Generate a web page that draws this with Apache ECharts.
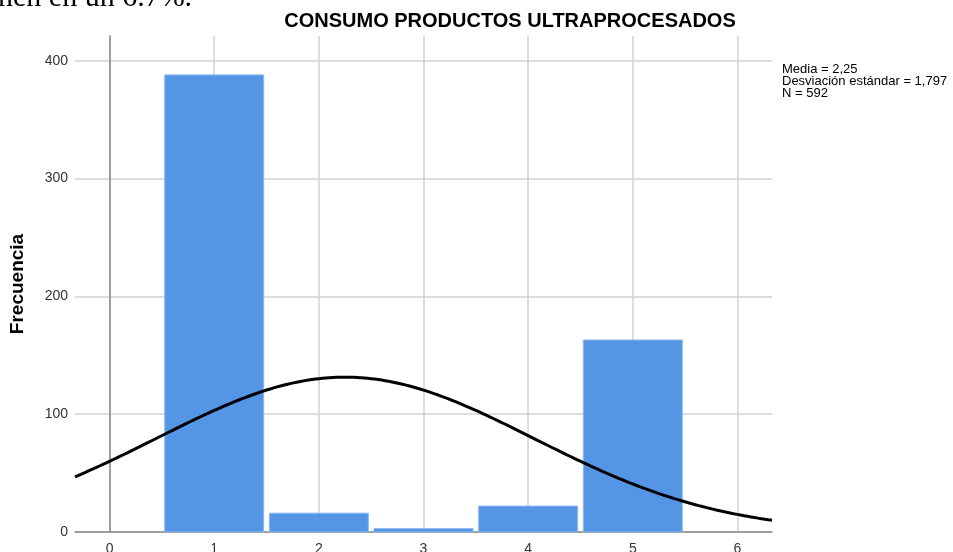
<!DOCTYPE html>
<html>
<head>
<meta charset="utf-8">
<title>Consumo productos ultraprocesados</title>
<script src="https://cdn.jsdelivr.net/npm/echarts@6/dist/echarts.min.js"></script>
<style>
  html, body { margin: 0; padding: 0; background: #ffffff; }
  #chart { width: 953px; height: 552px; }
</style>
</head>
<body>
<div id="chart"></div>
<script>
// Frequency of each consumption score (histogram bins of width 1)
const CATEGORIES = [1, 2, 3, 4, 5];
const FREQUENCIES = [388, 16, 3, 22, 163];

// Axis tick values
const X_TICKS = [0, 1, 2, 3, 4, 5, 6];
const Y_TICKS = [0, 100, 200, 300, 400];

// Summary statistics printed beside the plot
const MEAN = 2.25;
const STD_DEV = 1.797;
const N = 592;

const TITLE = 'CONSUMO PRODUCTOS ULTRAPROCESADOS';
const Y_NAME = 'Frecuencia';
const STATS_LINES = ['Media = 2,25', 'Desviación estándar = 1,797', 'N = 592'];
const HEADER_FRAGMENT = 'nen en un 6.7%.';

// Axis extent and bar half width (data units)
const X_MIN = -0.33, X_MAX = 6.33, Y_MAX = 421;
const BAR_HALF = 0.473;

// Normal curve fitted from the stated mean / standard deviation, scaled to counts
const BIN_WIDTH = 1;
const curve = [];
for (let i = 0; i <= 200; i++) {
  const x = X_MIN + (X_MAX - X_MIN) * i / 200;
  const z = (x - MEAN) / STD_DEV;
  const y = N * BIN_WIDTH * Math.exp(-0.5 * z * z) / (STD_DEV * Math.sqrt(2 * Math.PI));
  curve.push([x, y]);
}

const chart = echarts.init(document.getElementById('chart'), null, { renderer: 'canvas' });

const FONT = '"Liberation Sans", Arial, sans-serif';

chart.setOption({
  animation: false,
  backgroundColor: '#ffffff',
  grid: {
    left: 75, right: 181, top: 36, bottom: 20,
    containLabel: false,
    outerBoundsMode: 'none'
  },
  xAxis: {
    type: 'value',
    min: X_MIN,
    max: X_MAX,
    axisLine: { show: true, onZero: false, lineStyle: { color: '#8a8a8a', width: 1.5 } },
    axisTick: { show: false, customValues: X_TICKS },
    axisLabel: {
      customValues: X_TICKS,
      color: '#333333',
      fontFamily: FONT,
      fontSize: 14,
      margin: 10
    },
    splitLine: { show: true, lineStyle: { color: '#d2d2d2', width: 1.5 } }
  },
  yAxis: {
    type: 'value',
    min: 0,
    max: Y_MAX,
    name: Y_NAME,
    nameLocation: 'middle',
    nameRotate: 90,
    nameGap: 48,
    nameTextStyle: { fontFamily: FONT, fontWeight: 'bold', fontSize: 19, color: '#000000' },
    axisLine: { show: true, lineStyle: { color: '#8a8a8a', width: 1.5 } },
    axisTick: { show: false, customValues: Y_TICKS },
    axisLabel: {
      customValues: Y_TICKS,
      color: '#333333',
      fontFamily: FONT,
      fontSize: 14,
      margin: 7
    },
    splitLine: { show: true, lineStyle: { color: '#d2d2d2', width: 1.5 } }
  },
  graphic: [
    {
      type: 'text',
      x: 510,
      y: 11,
      style: {
        text: TITLE,
        align: 'center',
        verticalAlign: 'top',
        fill: '#000000',
        font: 'bold 20px ' + FONT
      }
    },
    {
      type: 'text',
      x: 782,
      y: 63,
      style: {
        text: STATS_LINES.join('\n'),
        align: 'left',
        verticalAlign: 'top',
        fill: '#000000',
        font: '13px ' + FONT,
        lineHeight: 12
      }
    },
    {
      type: 'text',
      x: -2,
      y: 13,
      style: {
        text: HEADER_FRAGMENT,
        align: 'left',
        verticalAlign: 'bottom',
        lineHeight: 30,
        fill: '#000000',
        font: '30px "Liberation Serif", "Times New Roman", serif'
      }
    }
  ],
  series: [
    {
      type: 'custom',
      name: 'Frecuencia',
      data: CATEGORIES.map((c, i) => [c, FREQUENCIES[i]]),
      encode: { x: 0, y: 1 },
      z: 2,
      renderItem: function (params, api) {
        const x = api.value(0);
        const y = api.value(1);
        const topLeft = api.coord([x - BAR_HALF, y]);
        const bottomRight = api.coord([x + BAR_HALF, 0]);
        return {
          type: 'rect',
          shape: {
            x: topLeft[0],
            y: topLeft[1],
            width: bottomRight[0] - topLeft[0],
            height: bottomRight[1] - topLeft[1]
          },
          style: { fill: '#5595e5', stroke: '#8fb9ee', lineWidth: 1 }
        };
      }
    },
    {
      type: 'line',
      name: 'Normal',
      data: curve,
      z: 3,
      showSymbol: false,
      smooth: false,
      lineStyle: { color: '#000000', width: 3 }
    }
  ]
});
</script>
</body>
</html>
